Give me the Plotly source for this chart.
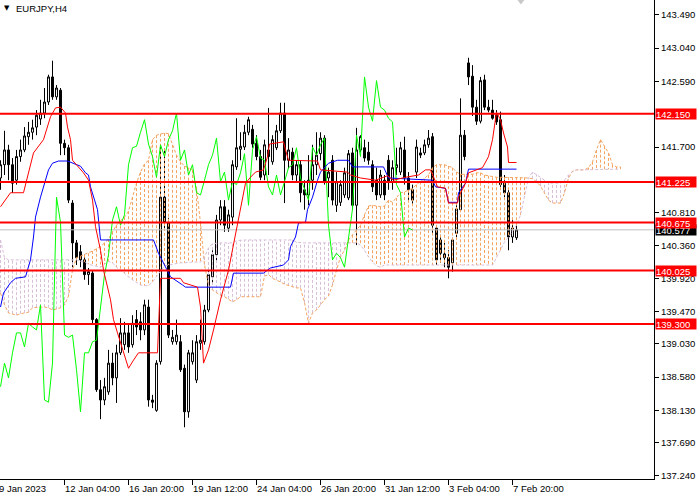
import plotly.graph_objects as go

# ---------------- data (EURJPY, H4) ----------------
bar = list(range(130))

opens = [
    141.28, 141.46, 141.66, 141.46, 141.25, 141.57, 141.66, 141.84, 141.90, 141.97,
    142.08, 142.16, 142.31, 142.65, 142.38, 142.47, 141.75, 141.69, 140.94, 140.40,
    140.28, 140.17, 139.97, 139.99, 139.36, 138.41, 138.27, 138.38, 138.77, 138.57,
    138.91, 139.02, 139.18, 139.02, 139.36, 139.33, 139.22, 139.53, 138.27, 138.13,
    138.79, 141.02, 140.67, 139.06, 139.06, 139.06, 138.70, 138.11, 138.79, 138.54,
    139.04, 139.06, 139.49, 139.94, 140.24, 140.71, 140.89, 140.60, 140.75, 141.43,
    141.67, 141.70, 141.90, 141.94, 141.75, 141.57, 141.32, 141.66, 141.50, 141.69,
    141.92, 142.16, 141.52, 141.63, 141.32, 141.46, 141.12, 141.05, 141.25, 141.46,
    141.61, 141.82, 141.28, 141.52, 140.91, 140.95, 141.05, 141.01, 141.62, 140.91,
    141.66, 141.69, 141.63, 141.46, 141.25, 141.05, 141.25, 141.52, 141.23, 141.42,
    141.36, 141.66, 141.28, 141.12, 141.36, 141.62, 141.62, 141.73, 141.84, 140.60,
    140.44, 140.25, 140.20, 140.13, 140.53, 140.85, 141.86, 142.84, 142.66, 142.24,
    142.05, 142.61, 142.24, 142.20, 142.13, 142.07, 141.21, 141.08, 140.48, 140.47,
]
highs = [
    141.52, 141.92, 141.73, 141.55, 141.66, 141.80, 141.97, 142.04, 142.07, 142.20,
    142.34, 142.50, 142.68, 142.87, 142.54, 142.50, 141.80, 141.73, 140.98, 140.44,
    140.37, 140.24, 140.06, 140.03, 139.38, 138.54, 138.57, 138.95, 138.91, 139.02,
    139.38, 139.33, 139.29, 139.42, 139.49, 139.46, 139.63, 139.63, 138.34, 138.81,
    141.70, 141.66, 140.74, 139.22, 139.36, 139.15, 138.75, 138.95, 139.08, 139.15,
    139.36, 139.56, 140.03, 140.30, 140.78, 140.98, 140.98, 140.85, 141.52, 142.09,
    141.90, 142.00, 142.11, 142.00, 141.86, 141.66, 141.80, 142.23, 141.86, 142.00,
    142.30, 142.30, 141.82, 141.69, 141.52, 141.52, 141.25, 141.59, 141.73, 141.90,
    141.90, 141.86, 141.42, 141.59, 141.36, 141.25, 141.42, 141.66, 141.69, 141.96,
    141.86, 141.80, 141.77, 141.52, 141.42, 141.39, 141.32, 141.59, 141.52, 141.69,
    141.77, 141.84, 141.36, 141.19, 141.80, 141.69, 141.80, 141.93, 141.89, 140.63,
    140.51, 140.40, 140.30, 140.47, 140.91, 142.36, 141.93, 142.91, 142.81, 142.34,
    142.65, 142.68, 142.34, 142.34, 142.20, 142.18, 141.32, 141.12, 140.74, 140.64,
]
lows = [
    141.12, 141.32, 141.25, 141.08, 141.19, 141.50, 141.63, 141.73, 141.80, 141.86,
    142.00, 142.09, 142.27, 142.34, 142.34, 141.59, 141.59, 140.94, 140.07, 140.10,
    140.07, 139.90, 139.83, 139.29, 138.38, 138.01, 138.20, 138.34, 138.47, 138.23,
    138.88, 138.95, 138.91, 138.98, 139.15, 139.08, 139.15, 138.18, 138.16, 138.11,
    138.75, 140.58, 139.11, 139.02, 139.02, 138.65, 137.90, 138.03, 138.75, 138.50,
    138.95, 139.02, 139.46, 139.83, 140.14, 140.64, 140.55, 140.55, 140.64, 141.39,
    141.52, 141.66, 141.86, 141.69, 141.52, 141.25, 141.25, 141.32, 141.46, 141.66,
    141.89, 140.94, 141.41, 141.25, 141.23, 140.95, 140.85, 140.91, 141.12, 141.32,
    141.52, 141.19, 141.02, 140.91, 140.82, 140.90, 141.01, 140.98, 140.85, 140.37,
    141.63, 141.50, 141.46, 141.09, 140.98, 141.01, 140.98, 141.12, 141.12, 141.32,
    141.32, 141.19, 140.98, 140.91, 141.28, 141.55, 141.59, 141.69, 140.51, 140.10,
    140.13, 140.07, 139.92, 140.01, 140.48, 140.82, 141.52, 142.54, 142.12, 142.00,
    142.02, 142.20, 142.17, 142.07, 142.00, 141.16, 141.02, 140.30, 140.40, 140.44,
]
closes = [
    141.46, 141.66, 141.46, 141.21, 141.57, 141.66, 141.85, 141.90, 141.96, 142.13,
    142.16, 142.31, 142.65, 142.38, 142.50, 141.75, 141.69, 140.98, 140.40, 140.20,
    140.17, 139.97, 140.01, 139.36, 138.41, 138.27, 138.45, 138.77, 138.57, 138.91,
    139.18, 139.18, 138.99, 139.31, 139.26, 139.22, 139.56, 138.27, 138.24, 138.77,
    141.02, 140.68, 139.15, 139.12, 139.15, 138.68, 138.11, 138.91, 138.91, 139.06,
    139.08, 139.49, 139.97, 140.24, 140.71, 140.89, 140.64, 140.78, 141.46, 141.69,
    141.71, 141.90, 142.07, 141.74, 141.57, 141.29, 141.73, 141.57, 141.80, 141.92,
    142.16, 141.52, 141.66, 141.32, 141.46, 141.08, 141.05, 141.25, 141.46, 141.59,
    141.82, 141.23, 141.36, 140.98, 141.23, 141.19, 141.35, 141.61, 140.91, 141.66,
    141.84, 141.55, 141.52, 141.16, 141.05, 141.32, 141.05, 141.23, 141.42, 141.46,
    141.69, 141.28, 141.12, 140.98, 141.70, 141.59, 141.73, 141.82, 140.64, 140.17,
    140.26, 140.20, 140.07, 140.44, 140.86, 141.86, 141.57, 142.65, 142.24, 142.05,
    142.60, 142.24, 142.20, 142.09, 142.04, 141.19, 141.08, 140.48, 140.60, 140.577,
]

# Senkou spans (already shifted 26 bars forward), one value per bar 0..155
span_a = [
    139.72, 139.56, 139.45, 139.44, 139.42, 139.44, 139.45, 139.46, 139.52, 139.53,
    139.53, 139.53, 139.52, 139.49, 139.50, 139.52, 139.56, 139.68, 140.03, 140.20,
    140.22, 140.24, 140.26, 140.29, 140.32, 140.35, 140.40, 140.45, 140.55, 140.64,
    140.70, 140.75, 140.83, 141.02, 141.21, 141.36, 141.47, 141.52, 141.80, 141.86,
    141.88, 141.89, 141.88, 141.73, 141.59, 141.50, 141.44, 141.42, 141.39, 141.14,
    140.67, 140.10, 139.83, 139.76, 139.72, 139.69, 139.67, 139.64, 139.60, 139.63,
    139.67, 139.67, 139.67, 139.67, 139.67, 139.67, 139.95, 139.97, 139.92, 139.90,
    139.87, 139.84, 139.82, 139.80, 139.79, 139.79, 139.59, 139.31, 139.45, 139.49,
    139.56, 139.63, 139.68, 139.83, 140.03, 140.21, 140.30, 140.44, 140.51, 140.57,
    140.64, 140.78, 140.90, 140.91, 140.90, 140.89, 140.90, 140.98, 140.95, 141.01,
    141.08, 141.09, 141.12, 141.14, 141.19, 141.23, 141.27, 141.32, 141.42, 141.46,
    141.46, 141.46, 141.44, 141.42, 141.36, 141.33, 141.33, 141.33, 141.33, 141.35,
    141.35, 141.32, 141.31, 141.29, 141.29, 141.29, 141.29, 141.29, 141.29, 141.29,
    141.29, 141.29, 141.28, 141.27, 141.23, 141.17, 141.08, 140.98, 140.94, 140.94,
    140.94, 141.08, 141.28, 141.37, 141.39, 141.39, 141.39, 141.42, 141.50, 141.66,
    141.80, 141.71, 141.62, 141.46, 141.43, 141.43,
]
span_b = [
    140.44, 140.20, 140.17, 140.17, 140.17, 140.17, 140.17, 140.17, 140.17, 140.17,
    140.17, 140.17, 140.17, 140.17, 140.17, 140.17, 140.17, 140.17, 140.17, 140.17,
    140.15, 140.14, 140.11, 140.10, 140.09, 140.07, 140.11, 140.15, 140.13, 140.07,
    140.03, 139.98, 139.94, 139.90, 139.86, 139.83, 139.82, 139.82, 139.87, 139.94,
    140.01, 140.09, 140.10, 140.11, 140.13, 140.13, 140.13, 140.14, 140.14, 140.14,
    140.14, 140.21, 140.33, 140.39, 140.40, 140.40, 140.40, 140.40, 140.40, 140.43,
    140.44, 140.44, 140.44, 140.44, 140.44, 140.44, 140.44, 140.44, 140.44, 140.44,
    140.44, 140.44, 140.44, 140.44, 140.41, 140.40, 140.40, 140.40, 140.40, 140.40,
    140.40, 140.40, 140.40, 140.40, 140.40, 140.40, 140.40, 140.40, 140.40, 140.40,
    140.37, 140.30, 140.21, 140.14, 140.09, 140.07, 140.10, 140.10, 140.10, 140.10,
    140.10, 140.10, 140.10, 140.10, 140.10, 140.10, 140.10, 140.10, 140.10, 140.10,
    140.10, 140.10, 140.10, 140.10, 140.10, 140.10, 140.10, 140.10, 140.10, 140.10,
    140.10, 140.10, 140.10, 140.10, 140.20, 140.30, 140.41, 140.48, 140.56, 140.64,
    140.78, 141.05, 141.28, 141.36, 141.33, 141.29, 141.25, 141.21, 141.21, 141.21,
    141.21, 141.25, 141.32, 141.37, 141.39, 141.39, 141.39, 141.39, 141.39, 141.39,
    141.40, 141.40, 141.40, 141.40, 141.40, 141.40,
]

# Tenkan-sen (red) and Kijun-sen (blue) read as vertices (bar, price)
tenkan_bar = [0, 2.5, 5.75, 7.5, 8.25, 10.75, 12.5, 13.75, 15, 16.25, 16.75, 17.5, 18,
              20.75, 22, 23, 23.75, 25, 25.75, 27.5, 28.25, 29.25, 30.5, 32, 33.25,
              34.5, 39.25, 40, 45, 45.75, 49.25, 50, 50.75, 52, 53.25, 55, 57, 58.75,
              60, 61.25, 62.5, 63.75, 65.75, 66.75, 67.25, 70.75, 71.25, 72, 79.25, 80,
              86.75, 87.5, 90, 93.75, 96.75, 98.25, 101.25, 104.5, 106.25, 107.5,
              108.75, 109.25, 111.25, 112, 114.25, 114.5, 116.25, 117, 120.5, 122, 123,
              123.75, 124, 125, 125.75, 126.75, 127, 129]
tenkan_val = [140.89, 141.08, 141.08, 141.46, 141.62, 141.80, 142.11, 142.23, 142.24,
              142.16, 141.97, 141.80, 141.52, 141.35, 141.25, 140.98, 140.62, 140.30,
              140.03, 139.63, 139.36, 139.18, 138.95, 138.70, 138.81, 138.91, 138.91,
              139.92, 139.92, 139.86, 139.80, 139.53, 138.77, 138.95, 139.22, 139.63,
              140.03, 140.51, 140.85, 141.21, 141.29, 141.36, 141.39, 141.57, 141.74,
              141.77, 141.66, 141.52, 141.51, 141.39, 141.36, 141.32, 141.28, 141.25,
              141.31, 141.25, 141.29, 141.32, 141.39, 141.39, 141.23, 141.16, 141.14,
              140.94, 140.94, 141.02, 141.21, 141.35, 141.42, 141.57, 141.80, 142.11,
              142.17, 142.07, 141.89, 141.70, 141.49, 141.49]
kijun_bar = [0, 0.75, 2.5, 3.75, 6.25, 7.5, 8.25, 8.75, 10, 10.75, 12, 13, 14.5, 16.75,
             18, 20, 21.25, 22, 22.5, 23.25, 24.25, 25, 38.25, 39.5, 40.75, 42.5, 45.5,
             46.25, 57.5, 58.25, 65.75, 67.5, 70.75, 72, 72.5, 73.75, 74.5, 76.25, 76.75,
             78, 79.25, 80, 82, 84.25, 87, 88, 95.75, 97, 108, 108.75, 111.25, 112,
             114.25, 114.5, 116.25, 117, 129]
kijun_val = [139.53, 139.72, 139.86, 139.92, 139.94, 140.17, 140.48, 140.75, 141.02,
             141.16, 141.39, 141.48, 141.51, 141.51, 141.48, 141.44, 141.35, 141.32,
             141.16, 141.02, 140.85, 140.44, 140.44, 140.26, 140.13, 139.94, 139.83,
             139.80, 139.80, 139.99, 139.99, 140.06, 140.10, 140.17, 140.35, 140.48,
             140.67, 140.68, 140.85, 141.02, 141.25, 141.36, 141.48, 141.52, 141.52,
             141.43, 141.43, 141.28, 141.25, 141.16, 141.14, 140.95, 140.95, 141.08,
             141.21, 141.40, 141.40]
chikou_shift = 26

levels = [142.150, 141.225, 140.675, 140.025, 139.300]
bid_price = 140.577
price_ticks = [143.490, 143.040, 142.590, 141.700, 140.810, 140.360, 139.920,
               139.470, 139.030, 138.580, 138.130, 137.690, 137.240]
time_tick_bars = [16, 32, 48, 64, 80, 96, 112, 128]
time_tick_labels = ["12 Jan 04:00", "16 Jan 20:00", "19 Jan 12:00", "24 Jan 04:00",
                    "26 Jan 20:00", "31 Jan 12:00", "3 Feb 04:00", "7 Feb 20:00"]
first_label = "9 Jan 2023"
symbol_title = "EURJPY,H4"

# ---------------- figure ----------------
FONT = "Liberation Sans, Arial, sans-serif"
UP_KUMO = "#F4A460"
DN_KUMO = "#D8BFD8"
DOT = "3px,2px"

fig = go.Figure()

# kumo hatch (vertical dotted strokes per bar)
hx_up, hy_up, hx_dn, hy_dn = [], [], [], []
for i, (a, b) in enumerate(zip(span_a, span_b)):
    if a >= b:
        hx_up += [i, i, None]; hy_up += [a, b, None]
    else:
        hx_dn += [i, i, None]; hy_dn += [a, b, None]
fig.add_trace(go.Scatter(x=hx_up, y=hy_up, mode="lines", hoverinfo="skip",
                         line=dict(color=UP_KUMO, width=1, dash=DOT)))
fig.add_trace(go.Scatter(x=hx_dn, y=hy_dn, mode="lines", hoverinfo="skip",
                         line=dict(color=DN_KUMO, width=1, dash=DOT)))
span_x = list(range(len(span_a)))
fig.add_trace(go.Scatter(x=span_x, y=span_a, mode="lines", hoverinfo="skip",
                         line=dict(color=UP_KUMO, width=1, dash=DOT)))
fig.add_trace(go.Scatter(x=span_x, y=span_b, mode="lines", hoverinfo="skip",
                         line=dict(color=DN_KUMO, width=1, dash=DOT)))

# bid line
fig.add_trace(go.Scatter(x=[-5, 170], y=[bid_price, bid_price], mode="lines",
                         hoverinfo="skip", line=dict(color="#C0C0C0", width=1)))

# candles
fig.add_trace(go.Candlestick(
    x=bar, open=opens, high=highs, low=lows, close=closes,
    increasing=dict(line=dict(color="black", width=1), fillcolor="white"),
    decreasing=dict(line=dict(color="black", width=1), fillcolor="black"),
    whiskerwidth=0, hoverinfo="skip"))

# chikou span (close plotted 26 bars back)
fig.add_trace(go.Scatter(x=[i - chikou_shift for i in bar[chikou_shift:]],
                         y=closes[chikou_shift:], mode="lines", hoverinfo="skip",
                         line=dict(color="#00FF00", width=1)))
fig.add_trace(go.Scatter(x=kijun_bar, y=kijun_val, mode="lines", hoverinfo="skip",
                         line=dict(color="#0000FF", width=1)))
fig.add_trace(go.Scatter(x=tenkan_bar, y=tenkan_val, mode="lines", hoverinfo="skip",
                         line=dict(color="#FF0000", width=1)))

# shift marker at top
fig.add_trace(go.Scatter(x=[130.1], y=[143.693], mode="markers", hoverinfo="skip",
                         cliponaxis=False,
                         marker=dict(symbol="triangle-down", size=9, color="#C8C8C8")))

shapes = []
for lv in levels:
    shapes.append(dict(type="line", xref="paper", x0=0, x1=1, yref="y", y0=lv, y1=lv,
                       line=dict(color="#FF0000", width=2), layer="above"))

annotations = []
# bid label (black), then level labels (red) on top
annotations.append(dict(xref="paper", x=1, xanchor="left", xshift=1, yref="y",
                        y=bid_price, yanchor="middle", text=f"{bid_price:.3f}",
                        showarrow=False, bgcolor="black", width=40, height=10,
                        borderpad=0, align="left",
                        font=dict(family=FONT, size=9.5, color="white")))
for lv in levels:
    annotations.append(dict(xref="paper", x=1, xanchor="left", xshift=1, yref="y",
                            y=lv, yanchor="middle", text=f"{lv:.3f}", showarrow=False,
                            bgcolor="#FF0000", width=40, height=10, borderpad=0,
                            align="left", font=dict(family=FONT, size=9.5, color="white")))
for b, t in zip(time_tick_bars, time_tick_labels):
    annotations.append(dict(xref="x", x=b, xanchor="left", xshift=-2, yref="paper", y=0,
                            yanchor="top", yshift=-2, text=t, showarrow=False,
                            font=dict(family=FONT, size=9.5, color="black")))
annotations.append(dict(xref="paper", x=0, xanchor="left", xshift=-3, yref="paper", y=0,
                        yanchor="top", yshift=-2, text=first_label, showarrow=False,
                        font=dict(family=FONT, size=9.5, color="black")))
annotations.append(dict(xref="paper", x=0, xanchor="left", xshift=2, yref="paper", y=1,
                        yanchor="top", yshift=-2, text="▼", showarrow=False,
                        font=dict(family="DejaVu Sans", size=7, color="black")))
annotations.append(dict(xref="paper", x=0, xanchor="left", xshift=14, yref="paper", y=1,
                        yanchor="top", yshift=-1, text=symbol_title, showarrow=False,
                        font=dict(family=FONT, size=9.5, color="black")))

fig.update_layout(
    width=700, height=500,
    margin=dict(l=0, r=46, t=0, b=21, pad=0),
    paper_bgcolor="white", plot_bgcolor="white",
    showlegend=False,
    shapes=shapes, annotations=annotations,
    xaxis=dict(range=[-0.125, 163.375], showgrid=False, zeroline=False,
               showline=True, linecolor="black", linewidth=1,
               ticks="outside", ticklen=5, tickcolor="black",
               tickvals=time_tick_bars, ticktext=["" for _ in time_tick_bars],
               rangeslider=dict(visible=False), fixedrange=True),
    yaxis=dict(range=[137.199, 143.693], side="right", showgrid=False, zeroline=False,
               showline=True, linecolor="black", linewidth=1,
               ticks="outside", ticklen=4, tickcolor="black",
               tickvals=price_ticks, ticktext=[f"{p:.3f}" for p in price_ticks],
               tickfont=dict(family=FONT, size=9.5, color="black"), fixedrange=True),
)

fig.write_html("out.html", config={"displayModeBar": False},
               post_script="document.body.style.margin='0px';")
